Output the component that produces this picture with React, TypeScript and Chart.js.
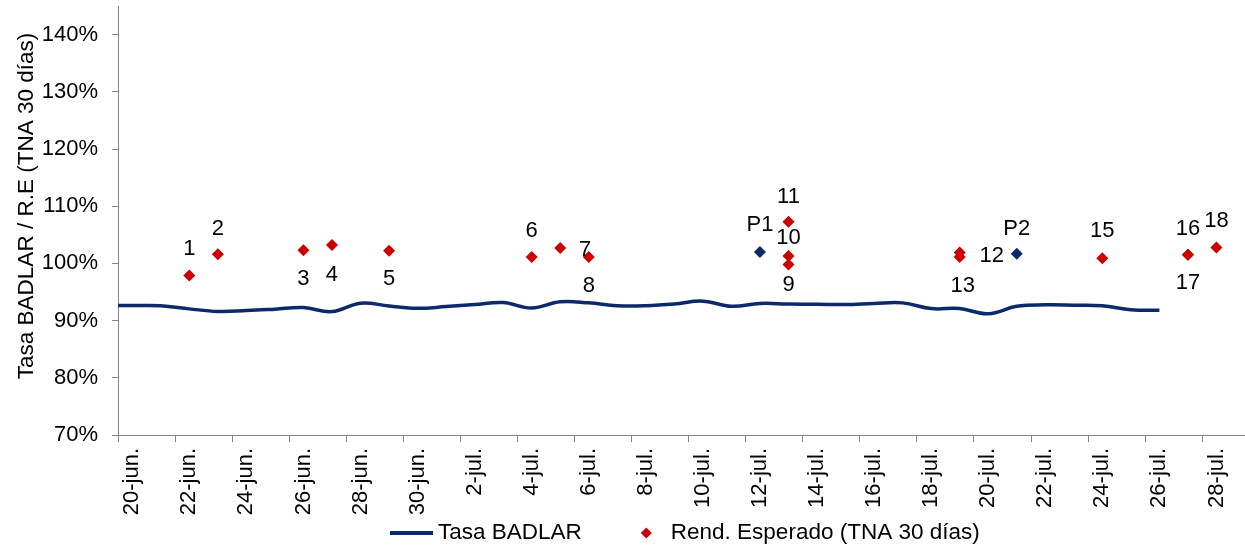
import React, { useEffect, useRef } from 'react';
import { Chart, registerables } from 'chart.js';

Chart.register(...registerables);

// ---- categories (one per day) ----
const days = [
  '19-jun.', '20-jun.', '21-jun.', '22-jun.', '23-jun.', '24-jun.', '25-jun.', '26-jun.', '27-jun.', '28-jun.', '29-jun.', '30-jun.',
  '1-jul.', '2-jul.', '3-jul.', '4-jul.', '5-jul.', '6-jul.', '7-jul.', '8-jul.', '9-jul.', '10-jul.', '11-jul.', '12-jul.',
  '13-jul.', '14-jul.', '15-jul.', '16-jul.', '17-jul.', '18-jul.', '19-jul.', '20-jul.', '21-jul.', '22-jul.', '23-jul.',
  '24-jul.', '25-jul.', '26-jul.', '27-jul.', '28-jul.', '29-jul.',
];

// tick labels shown on the x axis
const xTickLabels = [
  '20-jun.', '22-jun.', '24-jun.', '26-jun.', '28-jun.', '30-jun.', '2-jul.', '4-jul.', '6-jul.', '8-jul.',
  '10-jul.', '12-jul.', '14-jul.', '16-jul.', '18-jul.', '20-jul.', '22-jul.', '24-jul.', '26-jul.', '28-jul.',
];

const yTicks = [70, 80, 90, 100, 110, 120, 130, 140];

// ---- Tasa BADLAR (line) ----
const badlarDates = [
  '19-jun.', '20-jun.', '21-jun.', '22-jun.', '23-jun.', '24-jun.', '25-jun.', '26-jun.', '27-jun.', '28-jun.', '29-jun.', '30-jun.',
  '1-jul.', '2-jul.', '3-jul.', '4-jul.', '5-jul.', '6-jul.', '7-jul.', '8-jul.', '9-jul.', '10-jul.', '11-jul.', '12-jul.',
  '13-jul.', '14-jul.', '15-jul.', '16-jul.', '17-jul.', '18-jul.', '19-jul.', '20-jul.', '21-jul.', '22-jul.', '23-jul.',
  '24-jul.', '25-jul.', '26-jul.',
];
const badlarValues = [
  92.65, 92.63, 92.6, 92.05, 91.6, 91.75, 92.0, 92.28, 91.58, 93.05, 92.55, 92.15,
  92.45, 92.8, 93.15, 92.2, 93.3, 93.1, 92.6, 92.6, 92.9, 93.4, 92.5, 93.0,
  92.9, 92.85, 92.8, 93.0, 93.1, 92.1, 92.1, 91.2, 92.5, 92.75, 92.7,
  92.6, 91.9, 91.8,
];

// ---- Rend. Esperado (TNA 30 días) ----
const rendDates = [
  '22-jun.', '23-jun.', '26-jun.', '27-jun.', '29-jun.', '4-jul.', '5-jul.', '6-jul.', '13-jul.', '13-jul.', '13-jul.',
  '19-jul.', '19-jul.', '24-jul.', '27-jul.', '27-jul.', '28-jul.',
];
const rendValues = [
  97.9, 101.6, 102.3, 103.2, 102.2, 101.1, 102.7, 101.1, 101.3, 99.8, 107.3,
  101.9, 101.1, 100.9, 101.5, 101.5, 102.8,
];
const rendLabels = ['1', '2', '3', '4', '5', '6', '7', '8', '9', '10', '11', '12', '13', '15', '16', '17', '18'];
// label placement relative to the point (px)
const rendLabelOffsets = [
  [0, -26], [0, -25], [0, 29], [0, 30], [0, 28], [0, -26], [25, 2], [0, 29], [0, 29], [0, -27], [0, -25],
  [32, 3], [3, 29], [0, -27], [0, -26], [0, 28], [0, -26],
];

// ---- P points ----
const pDates = ['12-jul.', '21-jul.'];
const pValues = [102.0, 101.7];
const pLabels = ['P1', 'P2'];
const pLabelOffsets = [[0, -27], [0, -25]];

const NAVY = '#0c2a6b';
const RED = '#cc0000';
const AXIS = '#868686';
const FONT = '"Liberation Sans", Arial, sans-serif';

const idx = (d: string) => days.indexOf(d);

export default function App() {
  const canvasRef = useRef<HTMLCanvasElement | null>(null);

  useEffect(() => {
    document.body.style.margin = '0';
    const canvas = canvasRef.current;
    if (!canvas) return;

    const labelPlugin = {
      id: 'pointLabels',
      afterDatasetsDraw(chart: any) {
        const ctx = chart.ctx;
        ctx.save();
        ctx.font = `22px ${FONT}`;
        ctx.fillStyle = '#000';
        ctx.textAlign = 'center';
        ctx.textBaseline = 'middle';
        const sets: [number, string[], number[][]][] = [
          [1, rendLabels, rendLabelOffsets],
          [2, pLabels, pLabelOffsets],
        ];
        sets.forEach(([di, labels, offs]) => {
          const meta = chart.getDatasetMeta(di);
          meta.data.forEach((el: any, j: number) => {
            ctx.fillText(labels[j], el.x + offs[j][0], el.y + offs[j][1]);
          });
        });
        ctx.restore();
      },
      afterDraw(chart: any) {
        const ctx = chart.ctx;
        ctx.save();
        // y-axis title
        ctx.font = `22.5px ${FONT}`;
        ctx.fillStyle = '#000';
        ctx.textAlign = 'center';
        ctx.textBaseline = 'middle';
        ctx.translate(27, 206);
        ctx.rotate(-Math.PI / 2);
        ctx.fillText('Tasa BADLAR / R.E (TNA 30 días)', 0, 0);
        ctx.restore();

        // legend
        ctx.save();
        ctx.font = `22.5px ${FONT}`;
        ctx.fillStyle = '#000';
        ctx.textAlign = 'left';
        ctx.textBaseline = 'middle';
        const y = 533;
        const t1 = 'Tasa BADLAR';
        const t2 = 'Rend. Esperado (TNA 30 días)';
        const w1 = ctx.measureText(t1).width;
        let x = 390;
        ctx.strokeStyle = NAVY;
        ctx.lineWidth = 4;
        ctx.beginPath();
        ctx.moveTo(x, y);
        ctx.lineTo(x + 43, y);
        ctx.stroke();
        x += 48;
        ctx.fillText(t1, x, y);
        x += w1 + 59 + 5.5;
        ctx.fillStyle = RED;
        ctx.beginPath();
        ctx.moveTo(x - 5.5, y);
        ctx.lineTo(x, y - 5.5);
        ctx.lineTo(x + 5.5, y);
        ctx.lineTo(x, y + 5.5);
        ctx.closePath();
        ctx.fill();
        x += 5.5 + 19;
        ctx.fillStyle = '#000';
        ctx.fillText(t2, x, y);
        ctx.restore();
      },
    };

    const chart = new Chart(canvas, {
      type: 'line',
      data: {
        datasets: [
          {
            label: 'Tasa BADLAR',
            data: badlarDates.map((d, i) => ({ x: idx(d), y: badlarValues[i] })),
            borderColor: NAVY,
            backgroundColor: NAVY,
            borderWidth: 3.5,
            pointRadius: 0,
            tension: 0.4,
            fill: false,
            order: 3,
          },
          {
            type: 'scatter',
            label: 'Rend. Esperado (TNA 30 días)',
            data: rendDates.map((d, i) => ({ x: idx(d), y: rendValues[i] })),
            backgroundColor: RED,
            borderColor: RED,
            borderWidth: 0,
            pointStyle: 'rectRot',
            pointRadius: 6,
            order: 1,
          },
          {
            type: 'scatter',
            label: 'P',
            data: pDates.map((d, i) => ({ x: idx(d), y: pValues[i] })),
            backgroundColor: NAVY,
            borderColor: NAVY,
            borderWidth: 0,
            pointStyle: 'rectRot',
            pointRadius: 6,
            order: 2,
          },
        ] as any,
      },
      options: {
        animation: false,
        responsive: false,
        devicePixelRatio: 1,
        events: [],
        layout: { autoPadding: false, padding: { top: 6, right: 0, bottom: 28, left: 0 } },
        plugins: {
          legend: { display: false },
          tooltip: { enabled: false },
          title: { display: false },
        },
        scales: {
          x: {
            type: 'linear',
            position: 'bottom',
            min: 0.5,
            max: 40.0,
            grid: { display: true, drawOnChartArea: false, drawTicks: true, tickLength: 7, color: AXIS, lineWidth: 1 },
            border: { display: true, color: AXIS, width: 1 },
            ticks: {
              autoSkip: false,
              maxRotation: 90,
              minRotation: 90,
              labelOffset: 14.27,
              padding: 6,
              color: '#000',
              font: { family: FONT, size: 22 },
              callback: (v: any) => days[Math.round(Number(v) + 0.5)] ?? '',
            },
            afterBuildTicks: (scale: any) => {
              scale.ticks = xTickLabels.map((l) => ({ value: idx(l) - 0.5 }));
            },
            afterFit: (scale: any) => {
              scale.height = 84;
              scale.paddingLeft = 0;
              scale.paddingRight = 0;
              scale.paddingTop = 0;
              scale.paddingBottom = 0;
            },
          },
          y: {
            type: 'linear',
            min: 70,
            max: 145,
            grid: { display: true, drawOnChartArea: false, drawTicks: true, tickLength: 6, color: AXIS, lineWidth: 1 },
            border: { display: true, color: AXIS, width: 1 },
            ticks: {
              padding: 14,
              color: '#000',
              font: { family: FONT, size: 22 },
              callback: (v: any) => `${v}%`,
            },
            afterBuildTicks: (scale: any) => {
              scale.ticks = yTicks.map((v) => ({ value: v }));
            },
            afterFit: (scale: any) => {
              scale.width = 118;
              scale.paddingTop = 0;
              scale.paddingBottom = 0;
              scale.paddingLeft = 0;
              scale.paddingRight = 0;
            },
          },
        },
      } as any,
      plugins: [labelPlugin],
    });

    return () => {
      chart.destroy();
    };
  }, []);

  return (
    <div style={{ width: 1245, height: 547, position: 'relative', background: '#fff' }}>
      <canvas ref={canvasRef} width={1245} height={547} style={{ display: 'block' }} />
    </div>
  );
}
